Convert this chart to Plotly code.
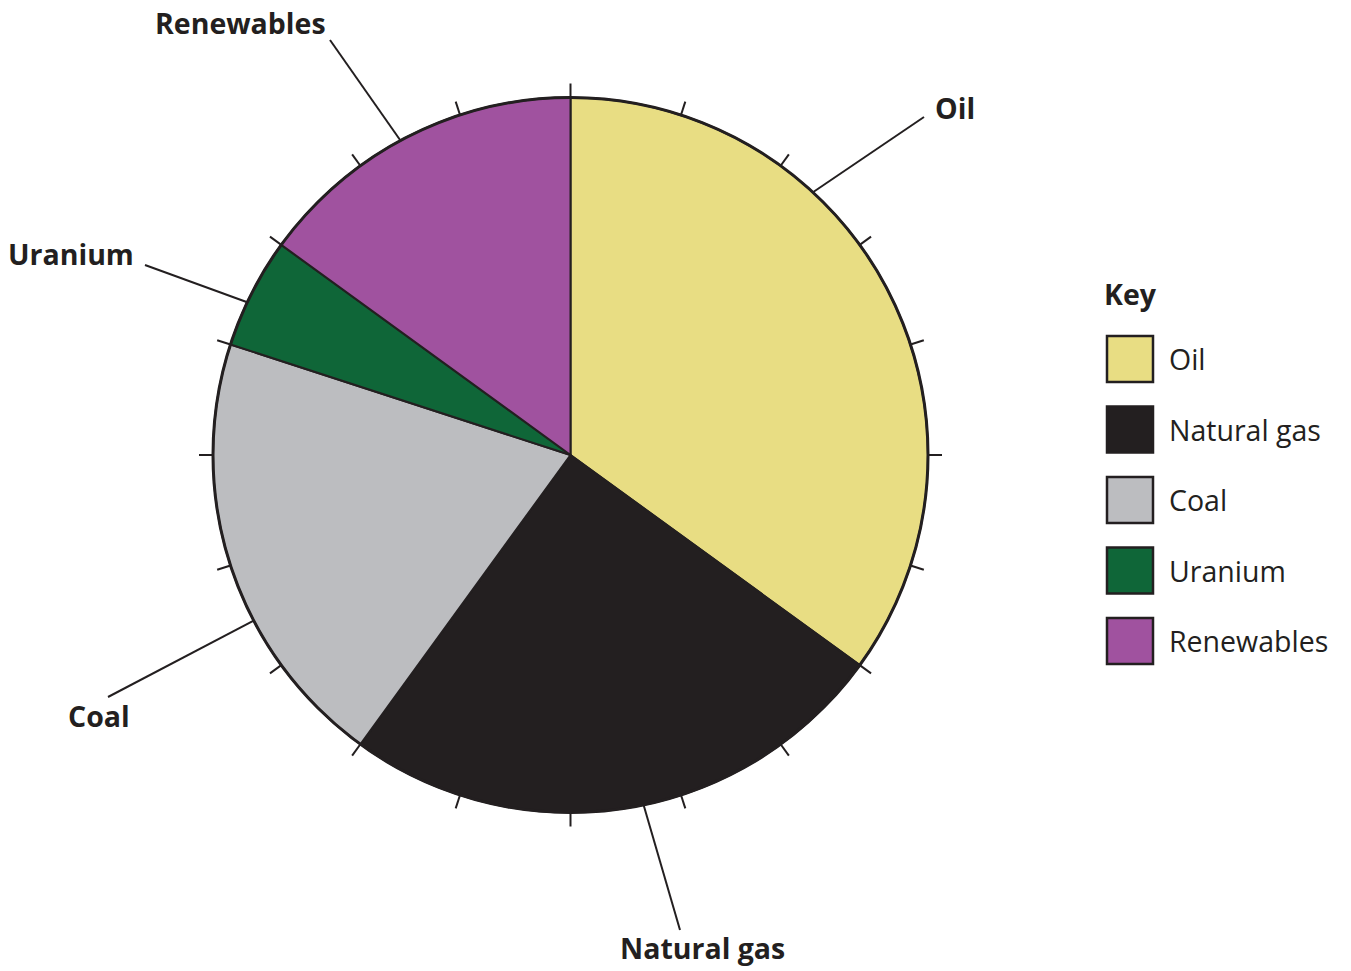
import math
import plotly.graph_objects as go

# Energy mix shares (percent)
categories = ["Oil", "Natural gas", "Coal", "Uranium", "Renewables"]
shares = [35, 25, 20, 5, 15]
colors = ["#E8DD83", "#231F20", "#BCBDC0", "#0F6638", "#A0529F"]

# Leader-line anchor angles on the rim (degrees clockwise from 12 o'clock)
leader_angles = [42.7, 168.2, 242.4, 295.3, 331.6]
# Label text anchors in pixels and the outer end of each leader line
label_pos = [(955, 108), (702, 948), (99, 716), (71, 254), (240, 23)]
leader_ends = [(924, 117), (680, 930), (108, 697), (145, 265), (330, 40)]

W, H = 1351, 971
CX, CY, R = 570.5, 455, 357.5
INK = "#231F20"
FONT = "Open Sans"


def px(x):
    return x / W


def py(y):
    return 1 - y / H


def rim(angle_deg, r):
    a = math.radians(angle_deg)
    return CX + r * math.sin(a), CY - r * math.cos(a)


fig = go.Figure()
fig.add_trace(go.Pie(
    labels=categories,
    values=shares,
    sort=False,
    direction="clockwise",
    rotation=0,
    marker=dict(colors=colors, line=dict(color=INK, width=2)),
    textinfo="none",
    hoverinfo="label+percent",
    showlegend=False,
    domain=dict(x=[px(CX - R), px(CX + R)], y=[py(CY + R), py(CY - R)]),
))

shapes = []
# outer rim
shapes.append(dict(type="circle", xref="paper", yref="paper",
                   x0=px(CX - R), x1=px(CX + R), y0=py(CY + R), y1=py(CY - R),
                   line=dict(color=INK, width=3), layer="above"))
# 5% scale ticks around the rim
for k in range(20):
    ang = k * 18
    x0, y0 = rim(ang, R)
    x1, y1 = rim(ang, R + 14)
    shapes.append(dict(type="line", xref="paper", yref="paper",
                       x0=px(x0), y0=py(y0), x1=px(x1), y1=py(y1),
                       line=dict(color=INK, width=2)))
# leader lines
for ang, (ex, ey) in zip(leader_angles, leader_ends):
    x0, y0 = rim(ang, R)
    shapes.append(dict(type="line", xref="paper", yref="paper",
                       x0=px(x0), y0=py(y0), x1=px(ex), y1=py(ey),
                       line=dict(color=INK, width=2)))

annotations = []
for name, (lx, ly) in zip(categories, label_pos):
    annotations.append(dict(text=f"<b>{name}</b>", x=px(lx), y=py(ly),
                            xref="paper", yref="paper", showarrow=False,
                            xanchor="center", yanchor="middle",
                            font=dict(family=FONT, size=28.5, color=INK)))

# Key
annotations.append(dict(text="<b>Key</b>", x=px(1102), y=py(294), xref="paper", yref="paper",
                        showarrow=False, xanchor="left", yanchor="middle",
                        font=dict(family=FONT, size=28.5, color=INK)))
key_top = 336
key_step = 70.5
box = 46
for i, (name, col) in enumerate(zip(categories, colors)):
    top = key_top + i * key_step
    shapes.append(dict(type="rect", xref="paper", yref="paper",
                       x0=px(1107), x1=px(1107 + box), y0=py(top + box), y1=py(top),
                       fillcolor=col, line=dict(color=INK, width=2.5)))
    annotations.append(dict(text=name, x=px(1167), y=py(top + box / 2), xref="paper", yref="paper",
                            showarrow=False, xanchor="left", yanchor="middle",
                            font=dict(family=FONT, size=28.5, color=INK)))

fig.update_layout(
    width=W, height=H,
    margin=dict(l=0, r=0, t=0, b=0),
    paper_bgcolor="white",
    plot_bgcolor="white",
    shapes=shapes,
    annotations=annotations,
)

fig.write_html("out.html")
